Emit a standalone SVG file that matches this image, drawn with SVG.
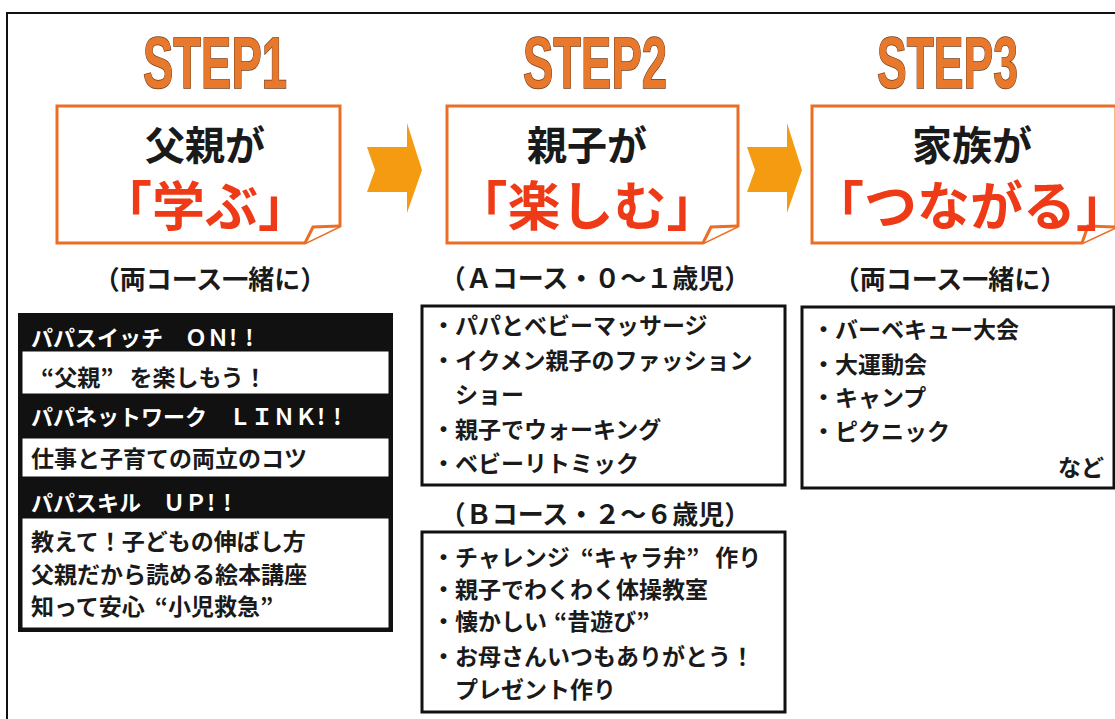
<svg xmlns="http://www.w3.org/2000/svg" width="1115" height="719" viewBox="0 0 1115 719">
<defs>
<style>
.jp{font-family:"Noto Sans CJK JP","Noto Sans CJK SC",sans-serif;font-weight:bold}
.step{font-family:"Liberation Sans",Arial,sans-serif;font-weight:bold;font-size:72px;fill:#e8782c;stroke:#6e3b1c;stroke-width:1.5;paint-order:stroke}
.title{font-size:40px;fill:#1a1a1a;text-anchor:middle}
.big{font-size:53px;fill:#ee3a16;text-anchor:middle}
.frame{fill:#fff;stroke:#ec6e26;stroke-width:3;stroke-linejoin:miter}
.sub{font-size:26px;fill:#1a1a1a;text-anchor:middle}
.item{font-size:23px;fill:#1a1a1a}
.wt{font-size:22px;fill:#fff}
.box{fill:#fff;stroke:#111;stroke-width:3}
.arrow{fill:#f59b12}
</style>
</defs>
<rect x="7" y="13" width="1130" height="730" fill="#fff" stroke="#111" stroke-width="2"/>

<g id="step1">
<text class="step" x="143" y="88" textLength="144" lengthAdjust="spacingAndGlyphs">STEP1</text>
<path class="frame" d="M57,106 H340 V226 L305,243 H57 Z"/>
<path class="frame" d="M305,243 L313,227 L340,226"/>
<text class="jp title" x="205" y="160">父親が</text>
<text class="jp big" x="205" y="226">「学ぶ」</text>
</g>

<g id="step2">
<text class="step" x="523" y="88" textLength="144" lengthAdjust="spacingAndGlyphs">STEP2</text>
<path class="frame" d="M447,106 H738 V226 L703,243 H447 Z"/>
<path class="frame" d="M703,243 L711,227 L738,226"/>
<text class="jp title" x="587" y="160">親子が</text>
<text class="jp big" x="587" y="226">「楽しむ」</text>
</g>

<g id="step3">
<text class="step" x="877" y="88" textLength="141" lengthAdjust="spacingAndGlyphs">STEP3</text>
<path class="frame" d="M812,106 H1116 V227 L1082,243 H812 Z"/>
<path class="frame" d="M1082,243 L1088,226 L1116,227"/>
<text class="jp title" x="972" y="160">家族が</text>
<text class="jp big" x="970" y="226">「つながる」</text>
</g>

<g id="connectors">
<path class="arrow" d="M367,147 L407,147 L407,123 L422,170 L407,213 L407,192 L367,192 L375,170 Z"/>
<path class="arrow" d="M747,147 L787,147 L787,123 L802,170 L787,213 L787,192 L747,192 L755,170 Z"/>
</g>

<g id="list1">
<text class="jp sub" x="210" y="289">（両コース一緒に）</text>
<rect x="18" y="313" width="375" height="319" fill="#111"/>
<rect x="22" y="351" width="367" height="43" fill="#fff" stroke="#111" stroke-width="1"/>
<rect x="22" y="438" width="367" height="39" fill="#fff" stroke="#111" stroke-width="1"/>
<rect x="22" y="518" width="367" height="110" fill="#fff" stroke="#111" stroke-width="1"/>
<text class="jp wt" x="31" y="346">パパスイッチ　ＯＮ<tspan letter-spacing="8">!!</tspan></text>
<text class="jp item" x="41" y="386">“父親”<tspan dx="16">を楽しもう！</tspan></text>
<text class="jp wt" x="31" y="425">パパネットワーク　ＬＩＮＫ<tspan letter-spacing="8">!!</tspan></text>
<text class="jp item" x="31" y="467">仕事と子育ての両立のコツ</text>
<text class="jp wt" x="31" y="511">パパスキル　ＵＰ<tspan letter-spacing="8">!!</tspan></text>
<text class="jp item" x="31" y="550">教えて！子どもの伸ばし方</text>
<text class="jp item" x="31" y="583">父親だから読める絵本講座</text>
<text class="jp item" x="31" y="615">知って安心<tspan dx="10">“小児救急”</tspan></text>
</g>

<g id="listA">
<text class="jp sub" x="595" y="288">（Ａコース・０～１歳児）</text>
<rect class="box" x="422" y="306" width="363" height="179"/>
<text class="jp item" x="432" y="334">・パパとベビーマッサージ</text>
<text class="jp item" x="432" y="369">・イクメン親子のファッション</text>
<text class="jp item" x="455" y="403">ショー</text>
<text class="jp item" x="432" y="438">・親子でウォーキング</text>
<text class="jp item" x="432" y="472">・ベビーリトミック</text>
</g>

<g id="listB">
<text class="jp sub" x="595" y="524">（Ｂコース・２～６歳児）</text>
<rect class="box" x="422" y="532" width="363" height="180"/>
<text class="jp item" x="432" y="566">・チャレンジ<tspan dx="11">“キャラ弁”</tspan><tspan dx="16">作り</tspan></text>
<text class="jp item" x="432" y="598">・親子でわくわく体操教室</text>
<text class="jp item" x="432" y="630">・懐かしい<tspan dx="7">“昔遊び”</tspan></text>
<text class="jp item" x="432" y="665">・お母さんいつもありがとう！</text>
<text class="jp item" x="455" y="698">プレゼント作り</text>
</g>

<g id="list3">
<text class="jp sub" x="950" y="289">（両コース一緒に）</text>
<rect class="box" x="802" y="307" width="312" height="181"/>
<text class="jp item" x="812" y="338">・バーベキュー大会</text>
<text class="jp item" x="812" y="373">・大運動会</text>
<text class="jp item" x="812" y="406">・キャンプ</text>
<text class="jp item" x="812" y="440">・ピクニック</text>
<text class="jp item" x="1058" y="476">など</text>
</g>
</svg>
